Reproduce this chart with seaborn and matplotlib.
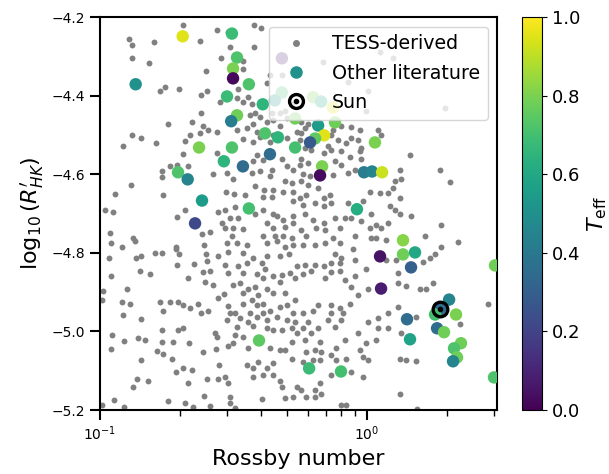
#!/usr/bin/env python3
# Activity-rotation diagram: log R'HK vs Rossby number

import numpy as np
import pandas as pd
import matplotlib
matplotlib.use("Agg")
import matplotlib.pyplot as plt
from matplotlib.lines import Line2D
import seaborn as sns

# ============================================================================
# DATA
# ============================================================================
tess_rossby = [
    0.204, 0.274, 0.301, 0.377, 0.400, 0.128, 0.132, 0.159, 0.237, 0.377,
    0.132, 0.152, 0.283, 0.343, 0.307, 0.250, 0.343, 0.175, 0.168, 0.198,
    0.239, 0.252, 0.329, 0.326, 0.281, 0.358, 0.343, 0.370, 0.239, 0.179,
    0.221, 0.243, 0.254, 0.274, 0.326, 0.355, 0.374, 0.387, 0.364, 0.380,
    0.397, 0.422, 0.444, 0.472, 0.502, 0.132, 0.143, 0.162, 0.122, 0.217,
    0.237, 0.209, 0.343, 0.374, 0.397, 0.433, 0.444, 0.502, 0.529, 0.547,
    0.493, 0.472, 0.441, 0.480, 0.433, 0.422, 0.524,
    1.119, 1.251, 0.685, 0.849, 1.009, 1.960, 0.991, 0.566, 0.601, 0.586,
    0.566, 0.561, 0.799, 0.871, 0.941, 0.746, 0.733, 0.779, 0.834, 0.871,
    0.925, 1.100, 1.129, 0.949, 0.715, 0.586,
    0.204, 0.183, 0.194, 0.214, 0.171, 0.171, 0.265, 0.299, 0.315, 0.274,
    0.374, 0.387, 0.407, 0.480, 0.502, 0.529, 0.441, 0.397, 0.370, 0.433,
    0.493, 0.524, 0.131, 0.114, 0.172, 0.296, 0.318, 0.380, 0.411, 0.444,
    0.484, 0.529, 0.349, 0.407, 0.441, 0.529, 0.104, 0.112, 0.209, 0.277,
    0.293, 0.321, 0.194, 0.307, 0.329, 0.380, 0.407, 0.444, 0.460, 0.484,
    0.529, 0.286, 0.293, 0.315, 0.343, 0.422, 0.444, 0.493, 0.529, 0.241,
    0.258, 0.312, 0.407, 0.452, 0.484, 0.524, 0.133, 0.135, 0.110, 0.121,
    0.193, 0.245, 0.299, 0.326, 0.355, 0.422, 0.460, 0.493, 0.529, 0.193,
    0.136, 0.143, 0.161, 0.171, 0.198, 0.250, 0.277, 0.301, 0.343, 0.374,
    0.422, 0.472, 0.510, 0.194, 0.225, 0.252, 0.293, 0.329, 0.355, 0.404,
    0.415, 0.547, 0.141, 0.154, 0.110, 0.214, 0.243, 0.258, 0.301, 0.343,
    0.387, 0.407, 0.444, 0.480, 0.515, 0.538,
    0.617, 0.691, 0.733, 0.799, 0.863, 0.941, 0.949, 0.566, 0.601, 0.561,
    0.759, 0.799, 1.449, 0.576, 0.612, 0.746, 0.849, 0.901, 1.329, 1.341,
    1.877, 2.046, 0.566, 0.601, 0.656, 0.727, 0.691, 1.026, 1.119, 1.199,
    1.251, 1.273, 0.591, 0.561, 0.576, 0.639, 0.691, 0.733, 0.966, 0.849,
    1.219, 1.329, 1.273, 1.329, 1.035, 0.949, 0.827, 0.759, 0.871, 0.586,
    0.628, 0.691, 0.566, 0.645, 0.696, 0.792, 0.901, 1.026, 1.081, 1.129,
    1.199, 1.035, 1.081, 1.179, 1.462, 1.893, 1.650, 2.193, 1.893, 1.798,
    1.722, 1.622, 0.591, 0.639, 0.696, 0.746, 0.792, 0.576, 0.759, 0.886,
    0.799, 0.901, 0.991, 0.586, 0.639, 0.691, 0.733, 0.792, 0.733, 0.792,
    0.576, 0.617, 0.696, 0.901, 0.827, 1.284, 1.179, 1.307,
    0.126, 0.102, 0.121, 0.130, 0.122, 0.142, 0.168, 0.183, 0.196, 0.172,
    0.205, 0.217, 0.233, 0.239, 0.254, 0.277, 0.291, 0.301, 0.307, 0.321,
    0.299, 0.247, 0.265, 0.315, 0.334, 0.343, 0.358, 0.380, 0.390, 0.422,
    0.444, 0.472, 0.493, 0.502, 0.538, 0.343, 0.370, 0.387, 0.407, 0.433,
    0.472, 0.529, 0.364, 0.387, 0.358, 0.374, 0.407, 0.422, 0.460, 0.502,
    0.538, 0.334, 0.326, 0.321, 0.315, 0.301, 0.343, 0.422, 0.444, 0.480,
    0.524, 0.547, 0.111, 0.123, 0.139, 0.147, 0.171, 0.171, 0.188, 0.196,
    0.205, 0.216, 0.243, 0.269, 0.274, 0.272, 0.110, 0.143, 0.164, 0.172,
    0.186, 0.205, 0.193, 0.221, 0.279, 0.358, 0.355, 0.374, 0.390, 0.422,
    0.444, 0.433, 0.472, 0.524, 0.524, 0.493, 0.138, 0.151, 0.133, 0.214,
    0.252, 0.277, 0.293, 0.301, 0.374, 0.407, 0.444, 0.472, 0.480, 0.547,
    0.113, 0.123, 0.180, 0.209, 0.223, 0.245, 0.258, 0.307, 0.307, 0.321,
    0.404, 0.493, 0.529,
    2.840, 2.230, 1.664, 1.580, 1.768, 1.400, 1.307, 1.009, 0.925, 0.871,
    0.863, 0.792, 0.813, 0.799, 0.733, 0.715, 0.759, 0.733, 0.656, 0.628,
    0.576, 0.601, 0.576, 0.617, 0.656, 0.586, 0.667, 0.766, 0.827, 0.925,
    1.009, 1.100, 1.199, 1.307, 1.526, 1.100, 1.199, 1.341, 1.081, 0.991,
    0.941, 0.733, 0.673, 0.639, 0.591, 0.667, 0.628, 0.576, 0.766, 0.834,
    0.966, 1.009, 1.329, 1.400, 1.526, 0.871, 0.733, 0.966, 0.667, 0.566,
    0.639, 0.673, 0.591, 0.639, 1.329, 0.799, 0.834, 1.540,
    0.109, 0.108, 0.103, 0.102,
]
tess_logrhk = [
    -4.219, -4.234, -4.239, -4.219, -4.229, -4.257, -4.272, -4.264, -4.262, -4.277,
    -4.305, -4.318, -4.303, -4.313, -4.277, -4.336, -4.331, -4.379, -4.389, -4.384,
    -4.399, -4.389, -4.384, -4.407, -4.415, -4.404, -4.417, -4.420, -4.445, -4.471,
    -4.468, -4.476, -4.488, -4.493, -4.488, -4.483, -4.471, -4.493, -4.450, -4.443,
    -4.455, -4.468, -4.463, -4.476, -4.458, -4.501, -4.509, -4.521, -4.529, -4.501,
    -4.496, -4.516, -4.511, -4.519, -4.506, -4.519, -4.501, -4.509, -4.527, -4.493,
    -4.438, -4.445, -4.443, -4.348, -4.348, -4.369, -4.420,
    -4.290, -4.305, -4.315, -4.366, -4.387, -4.432, -4.438, -4.468, -4.471, -4.483,
    -4.496, -4.514, -4.476, -4.481, -4.488, -4.488, -4.501, -4.514, -4.521, -4.509,
    -4.514, -4.488, -4.501, -4.532, -4.527, -4.532,
    -4.549, -4.580, -4.577, -4.580, -4.593, -4.608, -4.600, -4.598, -4.613, -4.547,
    -4.567, -4.552, -4.565, -4.560, -4.580, -4.590, -4.590, -4.593, -4.598, -4.605,
    -4.616, -4.623, -4.628, -4.651, -4.654, -4.644, -4.651, -4.631, -4.641, -4.641,
    -4.644, -4.644, -4.654, -4.659, -4.659, -4.667, -4.692, -4.697, -4.692, -4.695,
    -4.692, -4.684, -4.710, -4.712, -4.712, -4.700, -4.692, -4.700, -4.707, -4.717,
    -4.705, -4.723, -4.738, -4.738, -4.740, -4.725, -4.738, -4.733, -4.725, -4.753,
    -4.748, -4.758, -4.758, -4.758, -4.758, -4.763, -4.761, -4.771, -4.776, -4.786,
    -4.784, -4.781, -4.776, -4.776, -4.781, -4.776, -4.771, -4.786, -4.781, -4.791,
    -4.812, -4.809, -4.801, -4.801, -4.804, -4.804, -4.807, -4.799, -4.801, -4.812,
    -4.807, -4.807, -4.804, -4.832, -4.829, -4.822, -4.832, -4.834, -4.827, -4.827,
    -4.840, -4.834, -4.845, -4.855, -4.860, -4.863, -4.850, -4.845, -4.852, -4.852,
    -4.855, -4.865, -4.860, -4.857, -4.852, -4.865,
    -4.539, -4.547, -4.539, -4.542, -4.555, -4.542, -4.560, -4.560, -4.572, -4.577,
    -4.567, -4.577, -4.552, -4.600, -4.605, -4.603, -4.598, -4.590, -4.590, -4.611,
    -4.590, -4.621, -4.618, -4.628, -4.636, -4.654, -4.661, -4.644, -4.649, -4.649,
    -4.636, -4.618, -4.654, -4.661, -4.679, -4.674, -4.682, -4.674, -4.669, -4.674,
    -4.682, -4.661, -4.692, -4.700, -4.700, -4.720, -4.712, -4.712, -4.712, -4.700,
    -4.717, -4.725, -4.743, -4.738, -4.743, -4.738, -4.756, -4.738, -4.730, -4.738,
    -4.725, -4.761, -4.761, -4.768, -4.707, -4.730, -4.756, -4.773, -4.786, -4.804,
    -4.814, -4.824, -4.758, -4.781, -4.776, -4.761, -4.776, -4.781, -4.804, -4.789,
    -4.814, -4.819, -4.842, -4.832, -4.832, -4.834, -4.827, -4.827, -4.850, -4.847,
    -4.855, -4.847, -4.865, -4.860, -4.870, -4.819, -4.819, -4.852,
    -4.893, -4.921, -4.924, -4.929, -4.957, -4.969, -4.924, -4.924, -4.924, -4.949,
    -4.934, -4.941, -4.931, -4.954, -4.947, -4.916, -4.906, -4.936, -4.954, -4.952,
    -4.972, -4.875, -4.883, -4.883, -4.878, -4.903, -4.891, -4.888, -4.908, -4.891,
    -4.903, -4.875, -4.903, -4.934, -4.921, -4.929, -4.921, -4.934, -4.929, -4.947,
    -4.939, -4.952, -4.952, -4.964, -4.977, -4.985, -4.954, -4.972, -4.964, -4.972,
    -4.977, -4.967, -4.990, -5.010, -5.030, -5.036, -5.015, -4.992, -4.997, -4.997,
    -4.992, -5.005, -5.010, -5.025, -5.018, -5.023, -4.997, -5.028, -5.028, -4.997,
    -4.992, -5.030, -5.053, -5.005, -5.015, -5.046, -5.046, -5.074, -5.051, -5.058,
    -5.069, -5.092, -5.104, -5.099, -5.086, -5.043, -5.086, -5.094, -5.079, -5.092,
    -5.081, -5.041, -5.048, -5.028, -5.069, -5.048, -5.120, -5.127, -5.142, -5.132,
    -5.122, -5.120, -5.117, -5.130, -5.117, -5.112, -5.112, -5.125, -5.142, -5.142,
    -5.175, -5.193, -5.178, -5.183, -5.193, -5.165, -5.191, -5.168, -5.181, -5.196,
    -5.173, -5.170, -5.168,
    -4.929, -4.980, -4.893, -4.891, -4.878, -4.885, -4.878, -4.891, -4.908, -4.888,
    -4.929, -4.941, -4.954, -4.972, -4.954, -4.972, -4.990, -4.934, -4.934, -4.947,
    -4.954, -4.977, -4.992, -5.005, -4.992, -5.023, -5.028, -5.041, -5.023, -5.005,
    -4.977, -4.967, -4.954, -4.939, -4.964, -4.992, -4.992, -5.005, -5.023, -5.030,
    -5.048, -5.061, -5.053, -5.048, -5.053, -5.074, -5.074, -5.079, -5.074, -5.069,
    -5.066, -5.074, -5.069, -5.074, -5.076, -5.104, -5.112, -5.117, -5.132, -5.148,
    -5.150, -5.158, -5.168, -5.168, -5.158, -5.188, -5.188, -5.198,
    -4.750, -4.812, -4.896, -5.188,
]

lit_rossby = [
    0.204, 0.312, 0.326, 0.315, 0.315, 0.361, 0.299, 0.407, 0.136, 0.326,
    0.310, 0.415, 0.464, 0.235, 0.312, 0.433, 0.538, 0.538, 0.480, 0.480,
    0.452, 0.628, 0.673, 0.746, 0.759, 0.656, 0.691, 0.639, 0.612, 1.071,
    0.291, 0.343, 0.196, 0.213, 0.241, 0.361, 0.227, 0.679, 0.667, 0.974,
    1.044, 1.139, 0.917, 1.364, 1.364, 1.513, 1.119, 1.462, 3.016, 0.394,
    1.129, 2.030, 1.877, 1.798, 2.155, 1.412, 1.830, 1.943, 1.449, 2.249,
    2.118, 2.174, 2.100, 0.607, 0.799, 2.990,
]
lit_logrhk = [
    -4.249, -4.242, -4.303, -4.331, -4.356, -4.371, -4.402, -4.422, -4.371, -4.450,
    -4.465, -4.496, -4.506, -4.532, -4.532, -4.549, -4.458, -4.532, -4.305, -4.392,
    -4.412, -4.404, -4.415, -4.430, -4.468, -4.476, -4.501, -4.509, -4.519, -4.519,
    -4.567, -4.580, -4.595, -4.613, -4.667, -4.687, -4.725, -4.580, -4.603, -4.595,
    -4.593, -4.595, -4.689, -4.768, -4.804, -4.799, -4.809, -4.837, -4.832, -5.023,
    -4.891, -4.919, -4.944, -4.957, -4.957, -4.969, -4.992, -5.002, -5.020, -5.030,
    -5.043, -5.066, -5.076, -5.094, -5.102, -5.117,
]
lit_teff = [
    0.95, 0.68, 0.72, 0.80, 0.02, 0.72, 0.68, 0.65, 0.50, 0.78,
    0.42, 0.72, 0.65, 0.80, 0.72, 0.35, 0.78, 0.70, 0.08, 0.70,
    0.55, 0.80, 0.60, 0.95, 0.78, 0.55, 0.95, 0.75, 0.28, 0.80,
    0.65, 0.35, 0.72, 0.45, 0.55, 0.70, 0.22, 0.80, 0.03, 0.42,
    0.45, 0.92, 0.62, 0.82, 0.78, 0.60, 0.05, 0.30, 0.78, 0.75,
    0.08, 0.45, 0.35, 0.70, 0.80, 0.35, 0.35, 0.78, 0.58, 0.78,
    0.72, 0.78, 0.45, 0.68, 0.70, 0.72,
]

sun_rossby = [1.877]
sun_logrhk = [-4.944]

tess = pd.DataFrame({"rossby": tess_rossby, "logrhk": tess_logrhk})
lit = pd.DataFrame({"rossby": lit_rossby, "logrhk": lit_logrhk, "teff": lit_teff})

# ============================================================================
# CREATE PLOT
# ============================================================================
fig = plt.figure(figsize=(6.09, 4.74), dpi=100)
ax = fig.add_axes([0.1642, 0.135, 0.652, 0.829])
cax = fig.add_axes([0.857, 0.135, 0.033, 0.829])

sns.scatterplot(data=tess, x="rossby", y="logrhk", color="gray",
                s=18, linewidth=0, ax=ax, legend=False, zorder=2)
sns.scatterplot(data=lit, x="rossby", y="logrhk", hue="teff",
                palette="viridis", hue_norm=(0, 1), s=80, linewidth=0,
                ax=ax, legend=False, zorder=3)

# Sun symbol
ax.plot(sun_rossby, sun_logrhk, "o", mfc="none", mec="k", mew=2.4, ms=10.5, zorder=5)
ax.plot(sun_rossby, sun_logrhk, "o", color="k", ms=3, zorder=6)

ax.set_xscale("log")
ax.set_xlim(0.1, 3.07)
ax.set_ylim(-5.2, -4.2)
ax.set_yticks(np.arange(-5.2, -4.19, 0.2))
ax.set_xlabel("Rossby number", fontsize=16)
ax.set_ylabel(r"$\log_{10}(R^{\prime}_{HK})$", fontsize=16)
ax.tick_params(which="major", length=7, width=1.5, labelsize=10)
ax.tick_params(which="minor", length=4, width=1)
for sp in ax.spines.values():
    sp.set_linewidth(1.5)

# Legend
sun_ring = Line2D([], [], ls="none", marker="o", mfc="none", mec="k", mew=2.4, ms=10)
sun_dot = Line2D([], [], ls="none", marker="o", color="k", ms=3)
handles = [
    Line2D([], [], ls="none", marker="o", color="gray", ms=4),
    Line2D([], [], ls="none", marker="o", color=plt.cm.viridis(0.5), ms=8),
    (sun_ring, sun_dot),
]
ax.legend(handles, ["TESS-derived", "Other literature", "Sun"],
          loc="upper right", fontsize=13.7, handlelength=2.0,
          handletextpad=0.9, labelspacing=0.55)

# Colorbar
sm = plt.cm.ScalarMappable(cmap="viridis", norm=plt.Normalize(0, 1))
cb = fig.colorbar(sm, cax=cax)
cb.ax.tick_params(labelsize=13)
cb.set_label(r"$T_{\rm eff}$", fontsize=16)

# ============================================================================
# SAVE OUTPUT
# ============================================================================
plt.savefig("out.png", dpi=100)
plt.close()
